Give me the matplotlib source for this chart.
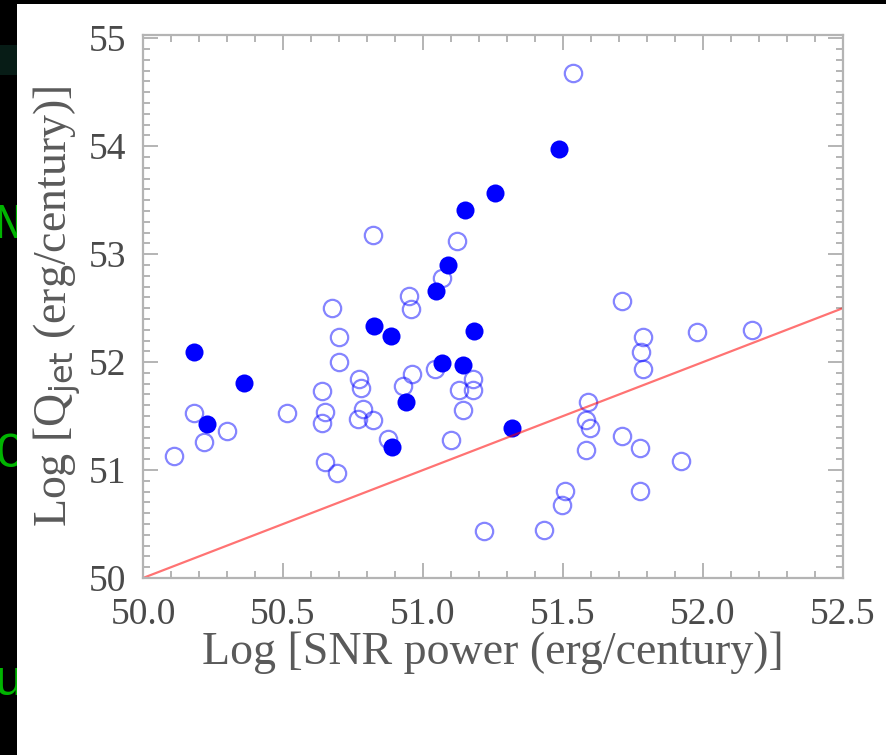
import numpy as np
import matplotlib
matplotlib.use("Agg")
import matplotlib.pyplot as plt
from matplotlib.patches import Rectangle
from matplotlib.ticker import MultipleLocator

# data: log SNR power vs log Q_jet (erg/century)
open_x = [50.112, 50.183, 50.219, 50.301, 50.513, 50.640, 50.650, 50.640, 50.650, 50.694,
          50.674, 50.700, 50.700, 50.770, 50.780, 50.787, 50.769, 50.823, 50.823, 50.876,
          50.930, 50.960, 50.951, 50.956, 51.043, 51.069, 51.123, 51.100, 51.180, 51.180,
          51.129, 51.144, 51.219, 51.433, 51.507, 51.498, 51.537, 51.590, 51.582, 51.596,
          51.582, 51.712, 51.712, 51.785, 51.778, 51.787, 51.775, 51.775, 51.920, 51.980,
          52.176]
open_y = [51.13, 51.525, 51.262, 51.364, 51.525, 51.73, 51.54, 51.44, 51.07, 50.97,
          52.50, 52.23, 52.00, 51.84, 51.76, 51.57, 51.47, 51.46, 53.18, 51.29,
          51.78, 51.89, 52.61, 52.49, 51.94, 52.775, 53.12, 51.28, 51.84, 51.74,
          51.74, 51.56, 50.44, 50.444, 50.81, 50.68, 54.68, 51.63, 51.46, 51.386,
          51.19, 52.57, 51.32, 52.23, 52.09, 51.94, 51.20, 50.81, 51.08, 52.28,
          52.30]

filled_x = [50.183, 50.227, 50.362, 50.825, 50.885, 50.890, 50.940, 51.046, 51.069, 51.090,
            51.150, 51.144, 51.182, 51.257, 51.317, 51.487]
filled_y = [52.09, 51.43, 51.81, 52.33, 52.24, 51.21, 51.63, 52.66, 51.99, 52.90,
            53.41, 51.97, 52.29, 53.57, 51.386, 53.97]

# equality line
line_x = [50.0, 52.5]
line_y = [50.0, 52.5]

xticks = [50.0, 50.5, 51.0, 51.5, 52.0, 52.5]
yticks = [50, 51, 52, 53, 54, 55]

W, H = 886, 755
fig = plt.figure(figsize=(W / 100, H / 100), dpi=100, facecolor="black")

# bits of the slide behind the chart
fig.patches.append(Rectangle((0, 1 - 75 / H), 17 / W, 30 / H, transform=fig.transFigure,
                             facecolor="#071c16", edgecolor="none", zorder=-3))
for ch, yb in [("N", 238), ("C", 467), ("u", 695)]:
    fig.text(-6 / W, 1 - yb / H, ch, color="#00b400", fontsize=36,
             family="Liberation Mono", ha="left", va="baseline", zorder=-2)
fig.patches.append(Rectangle((17 / W, 0), 1 - 17 / W, 1 - 4 / H, transform=fig.transFigure,
                             facecolor="white", edgecolor="none", zorder=-1))

ax = fig.add_axes([143 / W, 177 / H, 700 / W, 543 / H])
ax.set_facecolor("white")

ax.plot(open_x, open_y, "o", ls="none", ms=12.5, mew=1.6,
        mfc="none", mec=(0, 0, 1, 0.48))
ax.plot(filled_x, filled_y, "o", ls="none", ms=13, mew=0, color="#0000ff")
ax.plot(line_x, line_y, color=(1, 0, 0, 0.55), lw=1.6)

ax.set_xlim(50.0, 52.5)
ax.set_ylim(50.0, 55.03)
ax.set_xticks(xticks)
ax.set_xticklabels(["%.1f" % v for v in xticks])
ax.set_yticks(yticks)
ax.xaxis.set_minor_locator(MultipleLocator(0.1))
ax.yaxis.set_minor_locator(MultipleLocator(0.1))

grey = "#b4b4b4"
for s in ax.spines.values():
    s.set_color(grey)
    s.set_linewidth(1.6)
ax.tick_params(which="both", direction="in", top=True, right=True, color=grey, width=1.4)
ax.tick_params(which="major", length=10.5)
ax.tick_params(which="minor", length=5)
ax.tick_params(axis="x", which="major", pad=14, labelsize=27, labelcolor="#4a4a4a")
ax.tick_params(axis="y", which="major", pad=12, labelsize=27, labelcolor="#4a4a4a")
for lab in ax.get_xticklabels() + ax.get_yticklabels():
    lab.set_family("Liberation Serif")

plt.rcParams["mathtext.fontset"] = "custom"
plt.rcParams["mathtext.rm"] = "Liberation Serif"
ax.set_xlabel("Log [SNR power (erg/century)]", family="Liberation Serif",
              fontsize=33, color="#5a5a5a", labelpad=0)
ax.set_ylabel(r"Log [Q$_{\rm jet}$ (erg/century)]", family="Liberation Serif",
              fontsize=33, color="#5a5a5a", labelpad=4)

fig.savefig("out.png", dpi=100, facecolor=fig.get_facecolor())
